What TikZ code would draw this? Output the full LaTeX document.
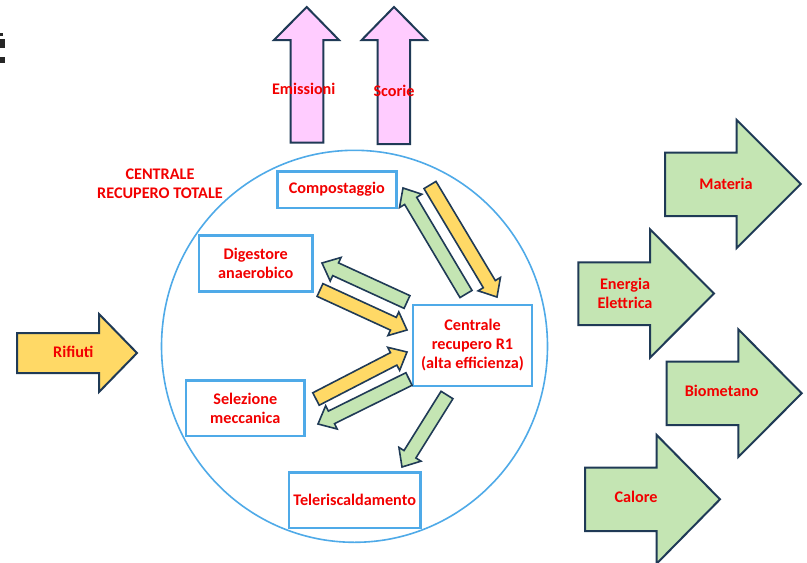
\documentclass[tikz,border=0pt]{standalone}
\usepackage{fontspec}
\setmainfont{Carlito}
\usetikzlibrary{calc}
\definecolor{navy}{HTML}{1F3A56}
\definecolor{boxblue}{HTML}{4FAAE8}
\definecolor{txtred}{HTML}{F20000}
\definecolor{ylw}{HTML}{FFD966}
\definecolor{grn}{HTML}{C4E5B3}
\definecolor{pnk}{HTML}{FFCCFF}
\newcommand\blkarrow[3]{%
  \coordinate (tmpc) at ($(#2)!15pt!(#1)$);
  \filldraw[thinarrow, fill=#3] ($(#1)!7pt!90:(#2)$) -- ($(tmpc)!7pt!90:(#2)$) -- ($(tmpc)!13pt!90:(#2)$) -- (#2) -- ($(tmpc)!13pt!-90:(#2)$) -- ($(tmpc)!7pt!-90:(#2)$) -- ($(#1)!7pt!-90:(#2)$) -- cycle;}
\begin{document}
\begin{tikzpicture}[x=1pt,y=-1pt,
  lbl/.style={text=txtred, font=\bfseries\fontsize{16.2}{19}\selectfont, align=center, inner sep=0pt},
  box/.style={lbl, draw=boxblue, line width=2.5pt, fill=white},
  bigarrow/.style={draw=navy, line width=2pt, line join=miter},
  thinarrow/.style={draw=navy, line width=1.6pt, line join=miter}]
\useasboundingbox (0,0) rectangle (807,563);
\fill[white] (0,0) rectangle (807,563);
% top-left fragment
\fill[black!85] (0,33) rectangle (3.3,36);
\fill[black!85] (0,39) rectangle (5,48);
\fill[black!85] (0,57) rectangle (5,63);
% up arrows
\filldraw[bigarrow, fill=pnk] (290.7,142.7) -- (290.7,40) -- (274,40) -- (306.7,7) -- (339,40) -- (323.3,40) -- (323.3,142.7) -- cycle;
\node[lbl] (emi) at (303.7,89.3) {Emissioni};
\filldraw[bigarrow, fill=pnk] (377.7,144) -- (377.7,40) -- (361.7,40) -- (394,7) -- (426.7,40) -- (410,40) -- (410,144) -- cycle;
\node[lbl] (sco) at (394,90.7) {Scorie};
% circle
\draw[boxblue, line width=1.6pt] (354.5,346.3) ellipse [x radius=193, y radius=196];
\node[lbl] (tot) at (160,184) {CENTRALE\\RECUPERO TOTALE};
% boxes
\node[box, minimum width=119pt, minimum height=36.5pt] (comp) at (336.8,189.5) {Compostaggio};
\node[box, minimum width=113.5pt, minimum height=56pt] (dig) at (255.7,263.3) {Digestore\\anaerobico};
\node[box, minimum width=119pt, minimum height=81pt] (r1) at (472.5,345.5) {Centrale\\recupero R1\\(alta efficienza)};
\node[box, minimum width=118.5pt, minimum height=55.5pt] (sel) at (245.3,408.3) {Selezione\\meccanica};
\node[box, minimum width=131.5pt, minimum height=55.5pt] (tel) at (354.7,500) {Teleriscaldamento};
% inner arrows
\coordinate (gcA) at (466,294); \coordinate (gcB) at (403,188);
\coordinate (ycA) at (430,185); \coordinate (ycB) at (497,297);
\coordinate (gdA) at (407,302); \coordinate (gdB) at (322,263);
\coordinate (ydA) at (320,290); \coordinate (ydB) at (407,330);
\coordinate (ysA) at (316,399); \coordinate (ysB) at (407,352);
\coordinate (gsA) at (409,379); \coordinate (gsB) at (318,424);
\coordinate (gtA) at (447,395); \coordinate (gtB) at (402,467);
\blkarrow{gcA}{gcB}{grn}
\blkarrow{ycA}{ycB}{ylw}
\blkarrow{gdA}{gdB}{grn}
\blkarrow{ydA}{ydB}{ylw}
\blkarrow{ysA}{ysB}{ylw}
\blkarrow{gsA}{gsB}{grn}
\blkarrow{gtA}{gtB}{grn}
% input arrow
\filldraw[bigarrow, fill=ylw] (17,333) -- (99,333) -- (99,314) -- (137,353) -- (99,392) -- (99,373) -- (17,373) -- cycle;
\node[lbl] (rif) at (73.3,352.3) {Rifiuti};
% output arrows
\filldraw[bigarrow, fill=grn] (665,152.7) -- (736.7,152.7) -- (736.7,120) -- (800.7,184) -- (736.7,248) -- (736.7,216) -- (665,216) -- cycle;
\node[lbl] (mat) at (726,184) {Materia};
\filldraw[bigarrow, fill=grn] (578.3,262.3) -- (650,262.3) -- (650,229.3) -- (714,293.5) -- (650,357.7) -- (650,325) -- (578.3,325) -- cycle;
\node[lbl] (ene) at (625,293.5) {Energia\\Elettrica};
\filldraw[bigarrow, fill=grn] (666.7,361.7) -- (738.3,361.7) -- (738.3,329.3) -- (801.7,393.3) -- (738.3,457) -- (738.3,425) -- (666.7,425) -- cycle;
\node[lbl] (bio) at (721.7,391) {Biometano};
\filldraw[bigarrow, fill=grn] (585,467.7) -- (656.7,467.7) -- (656.7,435) -- (720,499.3) -- (656.7,563.6) -- (656.7,531) -- (585,531) -- cycle;
\node[lbl] (cal) at (636,496.7) {Calore};
\end{tikzpicture}
\end{document}
